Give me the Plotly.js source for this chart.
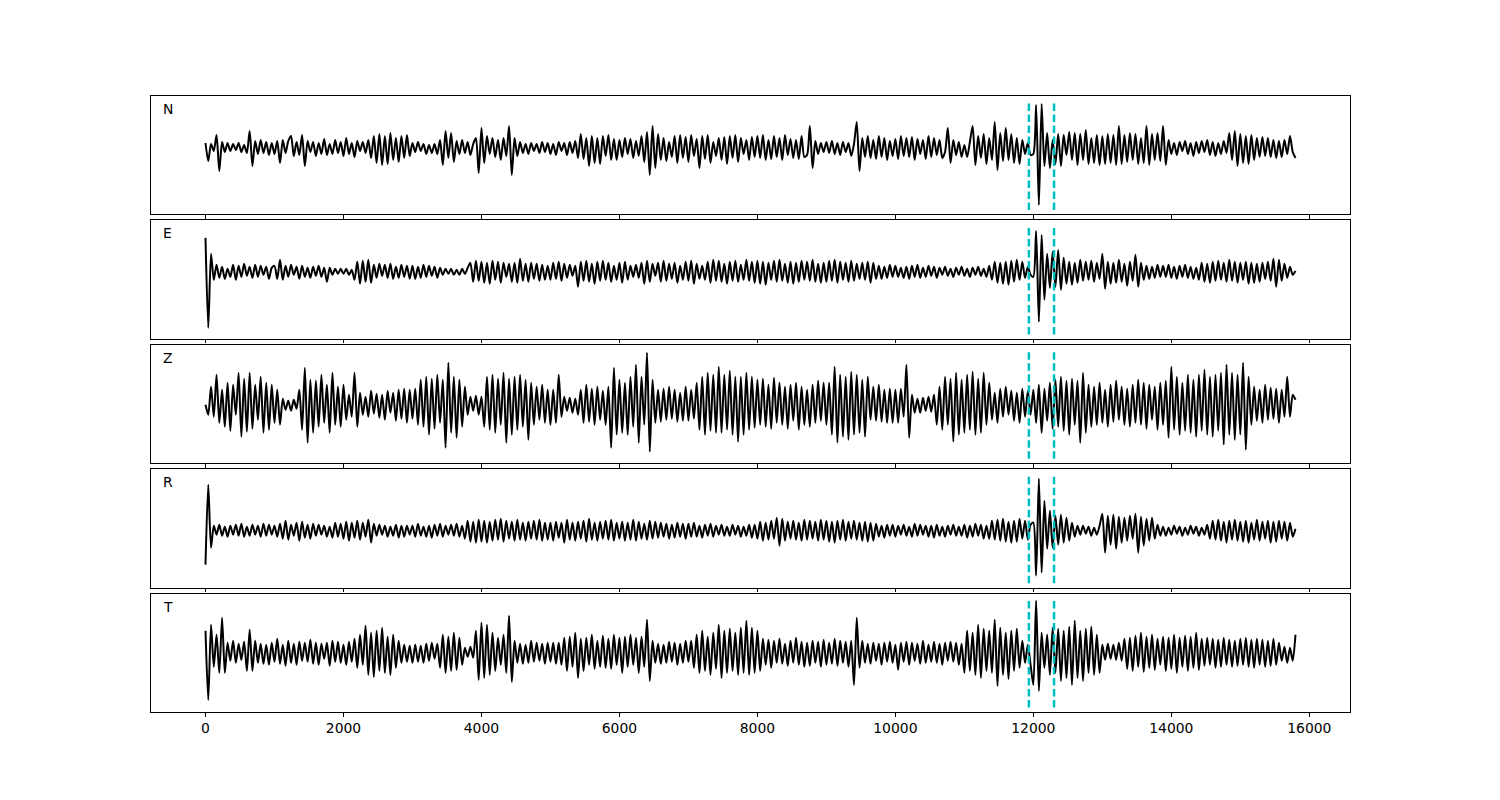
<!DOCTYPE html>
<html>
<head>
<meta charset="utf-8">
<script src="https://cdn.plot.ly/plotly-3.0.1.min.js"></script>
<style>html,body{margin:0;padding:0;background:#fff;}#chart{width:1500px;height:800px;}</style>
</head>
<body>
<div id="chart"></div>
<script>
// Sample spacing of the traces (time index units)
const sampleStep = 40;
const componentLabels = ["N", "E", "Z", "R", "T"];
const pickTimes = [11935, 12300];
const tickValues = [0, 2000, 4000, 6000, 8000, 10000, 12000, 14000, 16000];
const tickLabels = ["0", "2000", "4000", "6000", "8000", "10000", "12000", "14000", "16000"];

const traceN = [
  5,-13,4,-3,13,-23,6,-4,5,-3,4,-2,5,-4,3,-5,17,-18,7,-6,8,-5,6,-7,5,
  -6,7,-15,8,-5,7,12,-8,6,-7,13,-18,7,-4,6,-8,5,-6,9,-7,4,-6,8,-5,6,
  -8,10,-6,5,-9,7,-3,6,-5,8,-10,12,-15,14,-17,12,-16,15,-12,10,-14,12,-10,13,-8,
  5,-4,6,-3,4,-6,3,-5,4,-6,8,-17,17,-10,15,-14,7,-6,8,-5,6,-7,4,10,-25,
  20,-15,12,-6,10,-9,8,-12,10,-8,22,-27,10,-8,6,-5,4,-6,5,-3,4,-5,6,-4,5,
  -6,4,-7,6,-3,5,-7,6,-5,7,-10,14,-11,10,-18,12,-15,10,-16,12,-8,13,-12,9,-12,
  8,-9,10,-6,9,-10,7,-8,12,-14,16,-27,22,-20,14,-12,10,-13,6,-9,12,-15,13,-10,11,
  -14,13,-8,9,-20,12,-11,13,-15,6,-8,10,-12,11,-16,12,-10,13,-14,10,-6,8,-12,11,-9,
  12,-10,13,-12,8,-11,12,-9,10,-12,13,-7,9,-10,8,-11,12,-9,-7,22,-20,7,-6,5,-4,
  6,-5,7,-6,5,-7,6,-4,5,-8,4,26,-23,10,-9,12,-10,8,-11,12,-9,10,-12,7,-8,
  9,-11,12,-8,10,-9,11,-12,9,-6,8,-11,12,-9,10,-7,8,-10,-4,20,-15,8,-7,6,-9,
  3,-9,6,22,-17,12,-10,14,-16,10,-12,26,-22,15,-13,20,-12,14,-15,10,-16,8,-6,5,-7,
  -6,43,-57,44,-18,15,-20,8,-16,14,-18,13,-7,16,-12,15,-17,14,-12,18,-16,10,-15,13,-17,
  12,-16,14,-15,13,-17,22,-16,13,-14,15,-12,14,-16,10,-15,22,-17,14,-12,15,-13,22,-17,8,
  -6,5,-7,6,-3,7,-6,5,-8,6,-5,7,-4,8,-7,6,-8,5,-6,7,-5,15,-12,17,-18,
  14,-15,12,-16,13,-12,10,-9,11,-8,10,-9,8,-10,7,-9,8,-6,12,-4,-10
];
const traceE = [
  34,-56,18,-8,7,-6,5,-7,3,-5,7,-8,6,-5,8,-4,5,-6,7,-5,6,-3,5,-7,4,
  6,-7,12,-8,6,-5,7,-3,5,-7,6,-5,4,-6,5,-4,6,-5,4,-10,4,-3,3,-2,3,
  -2,3,-3,2,-8,10,-12,11,-10,12,-11,7,-6,8,-4,7,-6,8,-7,5,-6,7,-5,6,-7,
  6,-7,5,-6,7,-5,6,-4,5,-6,4,-3,3,-2,3,-3,2,-3,3,-2,4,9,-10,11,-9,
  10,-11,9,-12,11,-8,10,-11,9,-5,8,-10,9,-11,13,-9,8,-10,9,-7,8,-9,7,-8,6,
  -8,9,-7,10,-9,8,-6,7,-4,6,-15,10,-9,11,-10,8,-12,10,-9,11,-8,9,-10,6,-8,
  9,-11,10,-8,6,-5,7,-6,9,-12,11,-10,8,-4,9,-10,11,-9,8,-7,9,-11,6,-8,10,
  -9,11,-12,8,-7,6,-8,10,-11,12,-9,11,-10,8,-12,10,-9,11,-10,7,-8,12,-9,10,-11,
  11,-12,10,-13,9,-8,11,-10,12,-9,8,-11,10,-12,9,-10,11,-8,10,-9,12,-10,8,-11,9,
  -10,11,-9,12,-11,10,-8,9,-10,11,-9,8,-7,9,-8,10,-11,9,-7,6,-7,5,-6,7,-5,
  6,-5,4,-6,5,-7,6,-5,7,-6,4,-5,6,-4,5,-6,4,-3,5,-4,3,-5,4,-3,5,
  -4,3,-5,4,-3,5,-4,3,-5,6,-8,10,-11,9,-12,10,-13,11,-10,12,-8,10,-6,5,-3,
  -5,41,-50,37,-28,18,-16,20,-15,22,-18,14,-12,10,-13,9,-11,12,-9,10,-8,11,-10,9,-7,
  18,-17,10,-12,9,-11,12,-10,8,-14,10,-9,17,-15,9,-8,6,-7,5,-6,7,-5,6,-5,7,
  -6,5,-7,6,-5,7,-6,5,-7,4,-8,9,-10,8,-11,10,-9,11,-8,9,-10,12,-9,10,-11,
  9,-8,10,-12,9,-11,8,-10,9,-7,10,-9,13,-15,12,-9,8,-6,5,-3,1
];
const traceZ = [
  0,-10,18,-12,30,-18,15,-22,22,-26,20,-10,32,-32,26,-27,32,-24,20,-15,28,-28,22,-25,20,
  -18,15,-20,6,-5,4,-6,5,-4,15,-25,37,-38,25,-28,24,-22,30,-18,20,-28,32,-20,18,-22,
  20,-15,10,-12,32,-22,12,-10,8,-12,14,-9,11,-13,10,-15,14,-8,12,-16,15,-14,16,-18,15,
  -14,16,-20,25,-22,28,-30,26,-24,30,-18,25,-43,42,-28,28,-33,25,-22,18,-10,8,-6,9,-10,
  8,-22,28,-25,30,-28,26,-20,32,-38,26,-30,28,-25,30,-22,25,-35,22,-20,18,-15,20,-18,15,
  -20,15,-18,30,-12,8,-6,7,-8,6,-10,15,-18,20,-17,16,-20,18,-15,14,-20,18,-43,37,-30,
  25,-28,22,-30,28,-22,40,-38,28,-20,52,-47,25,-18,15,-17,16,-15,18,-14,15,-17,12,-16,18,
  -16,15,-14,22,-25,28,-30,32,-26,30,-28,38,-28,30,-25,34,-30,28,-37,28,-30,32,-25,28,-23,
  25,-20,26,-22,20,-24,27,-18,22,-20,18,-24,20,-16,22,-25,18,-20,15,-22,20,-18,24,-16,22,
  -20,22,-30,38,-38,30,-32,28,-35,33,-30,30,-28,25,-32,28,-15,18,-16,20,-17,15,-18,16,-18,
  15,-18,16,-12,40,-33,10,-8,6,-8,7,-6,8,-7,10,-20,18,-25,28,-20,26,-37,32,-30,25,
  -28,30,-25,33,-30,26,-28,32,-20,22,-15,12,-18,16,-12,18,-10,14,-16,12,-18,16,-12,14,-10,
  15,-18,20,-28,16,-16,22,-24,25,-22,28,-26,24,-30,26,-20,24,-38,32,-28,20,-22,18,-20,22,
  -18,15,-22,20,-17,24,-15,18,-20,16,-22,20,-18,25,-20,22,-24,20,-15,18,-25,22,-20,24,-33,
  38,-25,28,-30,22,-26,30,-28,25,-32,30,-26,35,-30,28,-32,30,-26,32,-40,40,-30,32,-35,30,
  -30,42,-45,28,-20,18,-16,15,-18,20,-15,17,-14,16,-18,15,-12,28,-12,10,5
];
const traceR = [
  -34,46,-17,5,-4,6,-5,4,-6,5,-4,6,-5,7,-6,4,-5,6,-4,5,-6,7,-5,6,-4,
  5,-6,7,-8,10,-9,6,-5,8,-10,9,-7,6,-8,7,-5,6,-4,5,-6,4,-7,8,-6,7,
  -8,9,-10,8,-7,10,-9,8,-6,11,-12,7,-5,6,-4,5,-6,4,-5,6,-7,5,-6,5,-4,
  5,-6,7,-5,4,-6,5,-7,6,-5,7,-6,5,-4,6,-5,7,-6,5,-8,10,-11,9,-12,11,
  -11,10,-12,9,-10,11,-9,12,-11,10,-8,9,-10,11,-9,8,-10,9,-8,10,-9,11,-10,8,-9,
  8,-10,9,-7,8,-12,11,-9,8,-10,9,-8,10,-11,12,-9,8,-10,9,-8,10,-9,11,-10,8,
  -8,9,-10,8,-9,11,-10,9,-8,7,-9,10,-8,9,-7,8,-6,7,-8,6,-7,8,-6,7,-8,
  7,-6,8,-6,5,-7,6,-5,7,-6,5,-4,6,-5,4,-5,6,-4,5,-6,4,-5,6,-7,6,
  -8,9,-10,8,-9,10,-8,13,-15,12,-10,9,-8,10,-9,8,-10,11,-9,10,-8,9,-10,11,-9,
  10,-11,9,-12,10,-9,11,-10,9,-8,10,-9,8,-10,9,-11,8,-10,7,-6,5,-7,6,-5,6,
  -6,5,-4,6,-5,4,-6,7,-5,6,-4,5,-6,5,-7,6,-5,4,-6,5,-4,6,-5,4,-5,
  6,-7,5,-6,7,-5,6,-8,5,-8,10,-9,11,-10,12,-11,9,-12,10,-11,12,-8,10,-9,6,
  8,-45,52,-42,30,-18,20,-17,15,-14,16,-12,13,-10,8,-6,5,-4,5,-3,4,-5,3,-4,5,
  17,-22,15,-14,16,-18,14,-12,13,-10,15,-8,17,-22,14,-15,12,-10,13,-8,6,-5,4,-5,3,
  -4,5,-3,4,-5,3,-4,5,-3,4,-5,3,-4,6,-8,10,-9,11,-10,9,-12,10,-9,11,-10,
  9,-11,10,-12,8,-9,11,-10,9,-8,10,-12,9,-11,10,-8,9,-10,8,-6,2
];
const traceT = [
  22,-47,28,-14,18,-20,35,-20,10,-8,12,-10,9,-7,11,-18,23,-18,12,-10,9,-11,8,-12,10,
  -9,14,-11,8,-13,12,-10,9,-12,11,-8,10,-9,13,-11,10,-12,9,-6,10,-13,12,-9,11,-10,
  8,-12,11,-9,14,-15,18,-12,27,-22,20,-24,22,-18,25,-20,16,-22,18,-15,12,-10,8,-9,7,
  -10,8,-9,7,-10,9,-8,10,-6,9,-15,18,-20,16,-18,20,-17,15,-12,5,-4,6,-5,22,-27,
  30,-25,28,-22,20,-18,15,-12,18,-20,37,-29,12,-10,9,-11,8,-10,12,-9,10,-8,9,-11,10,
  -9,10,-11,10,-12,15,-18,16,-14,20,-25,14,-18,15,-12,18,-16,12,-14,17,-15,14,-16,18,-12,
  15,-20,16,-14,18,-12,15,-20,16,-14,33,-28,12,-10,9,-11,8,-10,11,-9,10,-12,9,-10,12,
  -9,12,-15,18,-20,22,-18,16,-22,20,-16,28,-25,22,-20,24,-18,20,-22,25,-20,32,-22,25,-20,
  22,-18,14,-12,13,-15,12,-10,14,-11,9,-13,12,-10,15,-12,11,-14,10,-13,12,-10,11,-14,13,
  -12,10,-11,14,-13,12,-10,11,-14,12,-32,35,-15,12,-10,9,-11,10,-8,9,-12,10,-9,11,-10,
  8,-17,10,-9,11,-12,10,-8,9,-11,12,-10,8,-9,11,-10,9,-12,10,-8,11,-9,10,-12,9,
  -20,22,-18,20,-22,28,-25,24,-18,22,-20,33,-33,25,-22,20,-26,22,-18,24,-15,12,-10,8,-12,
  -32,52,-38,20,-15,18,-22,25,-20,24,-28,22,-25,26,-32,32,-25,22,-28,24,-20,26,-22,18,-20,
  8,-7,9,-6,8,-7,10,-8,14,-16,15,-18,17,-14,20,-19,16,-15,18,-17,14,-12,16,-18,15,
  -16,18,-20,15,-14,17,-18,16,-15,20,-17,14,-13,15,-12,14,-15,13,-14,15,-12,13,-14,12,-13,
  14,-12,15,-14,13,-15,14,-12,13,-14,12,-13,14,-12,10,-8,6,-10,5,-8,18
];
const allTraces = [traceN, traceE, traceZ, traceR, traceT];

// ---- layout / style (not data) ----
const yRanges = [[-66.4, 52], [-67, 51.5], [-58.5, 60], [-57, 61.5], [-59, 59]];
const figTop = 96, figBottom = 712, panelH = 118.4, panelGap = 6;
const plotH = figBottom - figTop;

const data = [];
const layout = {
  width: 1500, height: 800,
  margin: {l: 151, r: 150, t: 96, b: 88, pad: 0},
  paper_bgcolor: '#ffffff', plot_bgcolor: '#ffffff',
  showlegend: false, hovermode: false,
  font: {family: 'DejaVu Sans', size: 13.9, color: '#000'},
  shapes: [], annotations: []
};

allTraces.forEach((vals, k) => {
  const s = k === 0 ? '' : String(k + 1);
  const xs = vals.map((_, i) => i * sampleStep);
  data.push({
    type: 'scatter', mode: 'lines', x: xs, y: vals,
    xaxis: 'x' + s, yaxis: 'y' + s,
    line: {color: '#000000', width: 2, shape: 'spline', smoothing: 0.7},
    hoverinfo: 'skip'
  });
  const top = figTop + k * (panelH + panelGap);
  const bot = top + panelH;
  const isLast = k === allTraces.length - 1;
  layout['xaxis' + s] = {
    range: [-790, 16590], anchor: 'y' + s, domain: [0, 1],
    showgrid: false, zeroline: false, showline: true, mirror: true,
    linecolor: '#000', linewidth: 1,
    ticks: 'outside', ticklen: 3.5, tickwidth: 1, tickcolor: '#000',
    tickmode: 'array', tickvals: tickValues, ticktext: tickLabels,
    showticklabels: isLast,
    tickfont: {family: 'DejaVu Sans', size: 13.9, color: '#000'}
  };
  if (k > 0) layout['xaxis' + s].matches = 'x';
  layout['yaxis' + s] = {
    range: yRanges[k], anchor: 'x' + s,
    domain: [(figBottom - bot) / plotH, (figBottom - top) / plotH],
    showgrid: false, zeroline: false, showline: true, mirror: true,
    linecolor: '#000', linewidth: 1, showticklabels: false, ticks: ''
  };
  pickTimes.forEach(t => {
    layout.shapes.push({
      type: 'line', xref: 'x' + s, yref: 'y' + s + ' domain',
      x0: t, x1: t, y0: 0.037, y1: 0.962,
      line: {color: '#00bfbf', width: 2.5, dash: '7.5px,3.5px'}, layer: 'above'
    });
  });
  layout.annotations.push({
    xref: 'x' + s + ' domain', yref: 'y' + s + ' domain',
    x: 0.0085, y: 0.89, xanchor: 'left', yanchor: 'middle',
    text: componentLabels[k], showarrow: false,
    font: {family: 'DejaVu Sans', size: 13.9, color: '#000'}
  });
});

Plotly.newPlot('chart', data, layout, {displayModeBar: false, staticPlot: true});
</script>
</body>
</html>
